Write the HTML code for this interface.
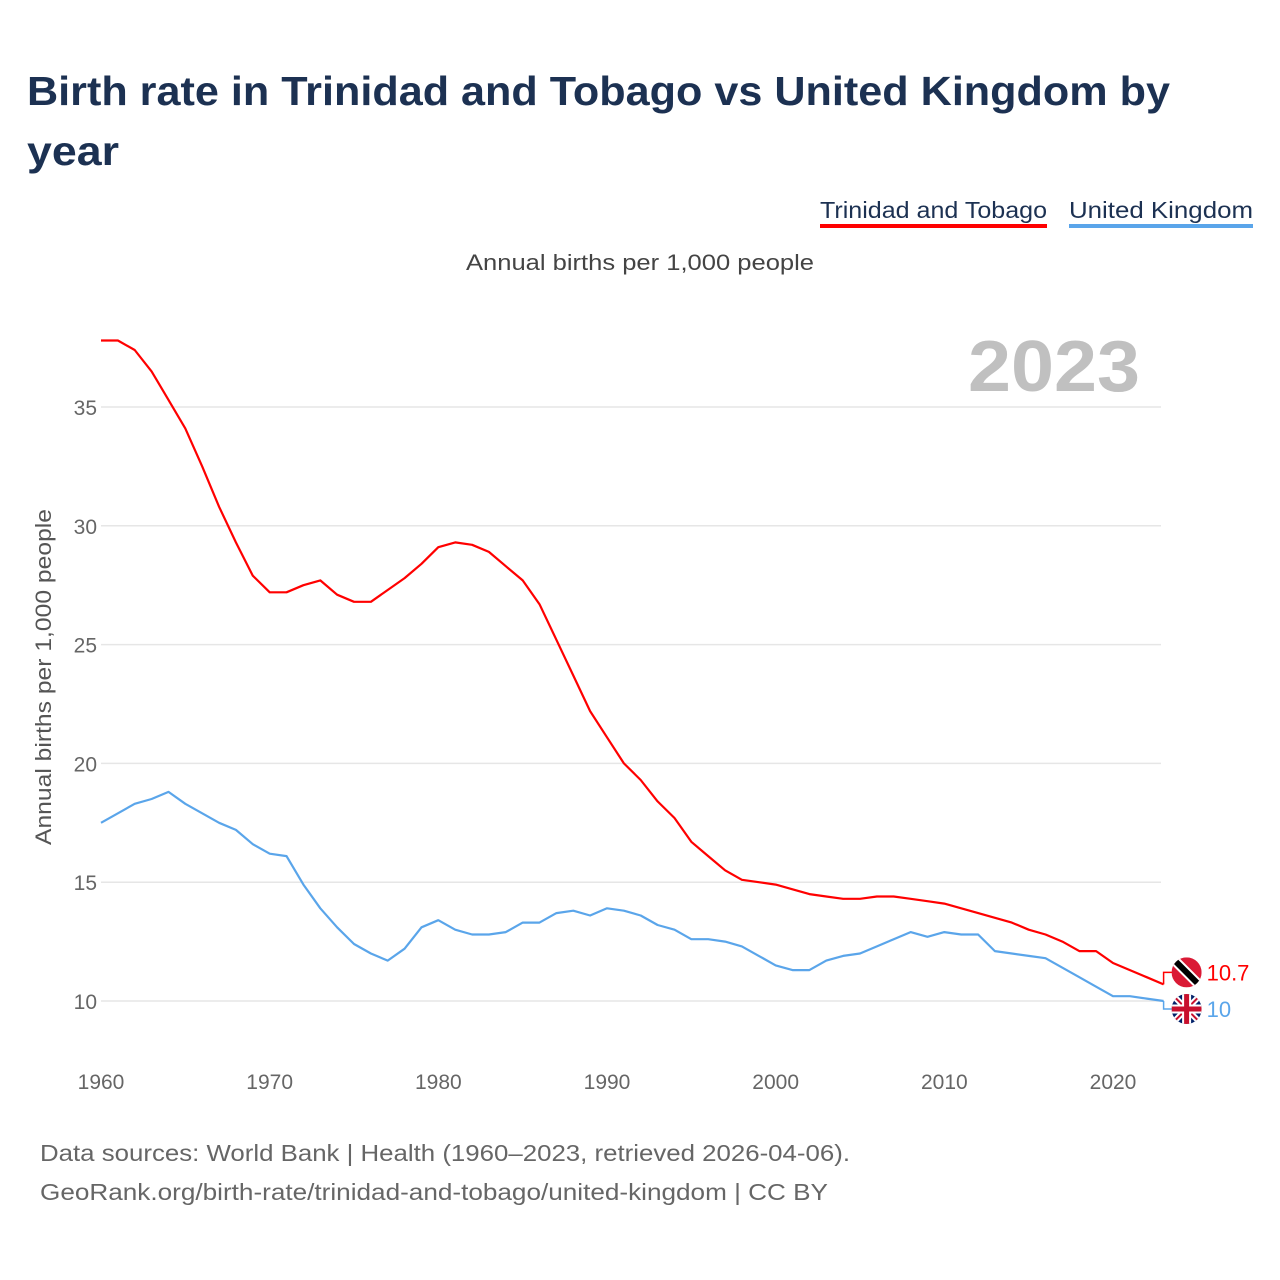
<!DOCTYPE html>
<html><head><meta charset="utf-8"><style>
body{margin:0;background:#fff;font-family:"Liberation Sans",sans-serif}
svg{display:block}
</style></head><body>
<svg id="chart" width="1280" height="1280" viewBox="0 0 1280 1280" xmlns="http://www.w3.org/2000/svg" font-family="Liberation Sans, sans-serif">
<text x="27" y="105" font-size="41" font-weight="bold" fill="#1c3152" textLength="1143" lengthAdjust="spacingAndGlyphs">Birth rate in Trinidad and Tobago vs United Kingdom by</text>
<text x="27" y="165" font-size="41" font-weight="bold" fill="#1c3152" textLength="92" lengthAdjust="spacingAndGlyphs">year</text>
<g>
<g><text x="820" y="218" font-size="23" fill="#1c3152" textLength="227" lengthAdjust="spacingAndGlyphs">Trinidad and Tobago</text><rect x="820" y="224" width="227" height="4" fill="#ff0000"/></g>
<g><text x="1069" y="218" font-size="23" fill="#1c3152" textLength="184" lengthAdjust="spacingAndGlyphs">United Kingdom</text><rect x="1069" y="224" width="184" height="4" fill="#5aa5ea"/></g>
</g>
<text x="640" y="270" font-size="22" fill="#444" text-anchor="middle" textLength="348" lengthAdjust="spacingAndGlyphs">Annual births per 1,000 people</text>
<text x="1140" y="391" font-size="72" font-weight="bold" fill="#c0c0c0" text-anchor="end" textLength="172" lengthAdjust="spacingAndGlyphs">2023</text>
<text transform="translate(51,677) rotate(-90)" font-size="22" fill="#555" text-anchor="middle" textLength="336" lengthAdjust="spacingAndGlyphs">Annual births per 1,000 people</text>
<g id="grid"></g><g id="xticks"></g><g id="lines"></g><g id="ends"></g>
<text x="40" y="1161" font-size="23" fill="#666" textLength="810" lengthAdjust="spacingAndGlyphs">Data sources: World Bank | Health (1960–2023, retrieved 2026-04-06).</text>
<text x="40" y="1200" font-size="23" fill="#666" textLength="788" lengthAdjust="spacingAndGlyphs">GeoRank.org/birth-rate/trinidad-and-tobago/united-kingdom | CC BY</text>
</svg>
<script>
const years=[];for(let y=1960;y<=2023;y++)years.push(y);
const trinidad=[37.8,37.8,37.4,36.5,35.3,34.1,32.5,30.8,29.3,27.9,27.2,27.2,27.5,27.7,27.1,26.8,26.8,27.3,27.8,28.4,29.1,29.3,29.2,28.9,28.3,27.7,26.7,25.2,23.7,22.2,21.1,20.0,19.3,18.4,17.7,16.7,16.1,15.5,15.1,15.0,14.9,14.7,14.5,14.4,14.3,14.3,14.4,14.4,14.3,14.2,14.1,13.9,13.7,13.5,13.3,13.0,12.8,12.5,12.1,12.1,11.6,11.3,11.0,10.7];
const uk=[17.5,17.9,18.3,18.5,18.8,18.3,17.9,17.5,17.2,16.6,16.2,16.1,14.9,13.9,13.1,12.4,12.0,11.7,12.2,13.1,13.4,13.0,12.8,12.8,12.9,13.3,13.3,13.7,13.8,13.6,13.9,13.8,13.6,13.2,13.0,12.6,12.6,12.5,12.3,11.9,11.5,11.3,11.3,11.7,11.9,12.0,12.3,12.6,12.9,12.7,12.9,12.8,12.8,12.1,12.0,11.9,11.8,11.4,11.0,10.6,10.2,10.2,10.1,10.0];
const yTicks=[10,15,20,25,30,35];
const xTicks=[1960,1970,1980,1990,2000,2010,2020];
const NS='http://www.w3.org/2000/svg';
const X=v=>101+(v-1960)*(1113-101)/60;
const Y=v=>1001-(v-10)*(1001-407)/25;
function mk(tag,attrs,parent){const e=document.createElementNS(NS,tag);for(const k in attrs)e.setAttribute(k,attrs[k]);document.getElementById(parent).appendChild(e);return e;}
yTicks.forEach(t=>{
 const l=mk('line',{x1:101,x2:1161,y1:Y(t),y2:Y(t),stroke:'#e6e6e6','stroke-width':1.5},'grid');
 
 
 const tx=mk('text',{x:97,y:Y(t)+8,'font-size':21,fill:'#666','text-anchor':'end'},'grid');tx.textContent=t;
 
 
});
xTicks.forEach(t=>{
 const tx=mk('text',{x:X(t),y:1089,'font-size':21,fill:'#666','text-anchor':'middle'},'xticks');tx.textContent=t;
 
 
});
function line(data,color,name){
 const d=data.map((v,i)=>(i?'L':'M')+X(years[i]).toFixed(1)+','+Y(v).toFixed(1)).join('');
 const p=mk('path',{d:d,fill:'none',stroke:color,'stroke-width':2.2,'stroke-linejoin':'round'},'lines');
 
 
}
line(trinidad,'#ff0000','trinidad-line');
line(uk,'#5aa5ea','uk-line');
// end labels
const lx=X(2023), tt=trinidad[trinidad.length-1], uv=uk[uk.length-1];
const ty=Y(tt)-12, uy=Y(uv)+8;
mk('path',{d:`M${lx},${Y(tt)}V${ty}H${lx+10}`,fill:'none',stroke:'#ff0000','stroke-width':1.5},'ends');
mk('path',{d:`M${lx},${Y(uv)}V${uy}H${lx+10}`,fill:'none',stroke:'#5aa5ea','stroke-width':1.5},'ends');
const f1=mk('g',{},'ends');


f1.innerHTML=`<clipPath id="c1"><circle cx="${lx+23}" cy="${ty}" r="15"/></clipPath><g clip-path="url(#c1)"><rect x="${lx+8}" y="${ty-15}" width="30" height="30" fill="#da1a35"/><line x1="${lx+10}" y1="${ty-13}" x2="${lx+36}" y2="${ty+13}" stroke="#fff" stroke-width="10"/><line x1="${lx+10}" y1="${ty-13}" x2="${lx+36}" y2="${ty+13}" stroke="#000" stroke-width="6"/></g>`;
const f2=mk('g',{},'ends');


f2.innerHTML=`<clipPath id="c2"><circle cx="${lx+23}" cy="${uy}" r="15"/></clipPath><g clip-path="url(#c2)"><rect x="${lx+8}" y="${uy-15}" width="30" height="30" fill="#012169"/><path d="M${lx+8},${uy-15}L${lx+38},${uy+15}M${lx+38},${uy-15}L${lx+8},${uy+15}" stroke="#fff" stroke-width="6"/><path d="M${lx+8},${uy-15}L${lx+38},${uy+15}M${lx+38},${uy-15}L${lx+8},${uy+15}" stroke="#c8102e" stroke-width="2"/><path d="M${lx+23},${uy-15}V${uy+15}M${lx+8},${uy}H${lx+38}" stroke="#fff" stroke-width="9"/><path d="M${lx+23},${uy-15}V${uy+15}M${lx+8},${uy}H${lx+38}" stroke="#c8102e" stroke-width="5"/></g>`;
const t1=mk('text',{x:lx+43,y:ty+8,'font-size':22,fill:'#ff0000'},'ends');t1.textContent=tt;


const t2=mk('text',{x:lx+43,y:uy+8,'font-size':22,fill:'#5aa5ea'},'ends');t2.textContent=uv;


</script>
</body></html>
